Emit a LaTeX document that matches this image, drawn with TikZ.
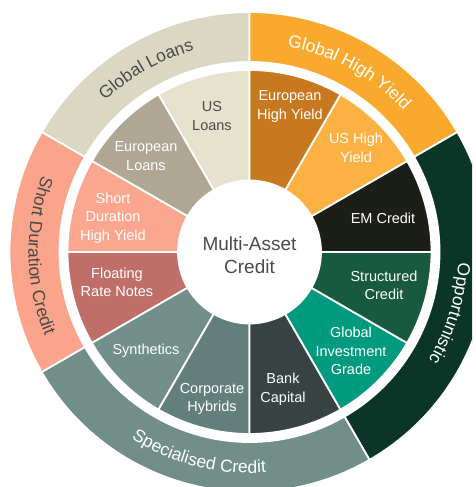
\documentclass[tikz,border=0pt]{standalone}
\usepackage{fontspec}
\setmainfont{Liberation Sans}
\usetikzlibrary{decorations.text}

\definecolor{usloans}{HTML}{E6E2CD}
\definecolor{euloans}{HTML}{AFA794}
\definecolor{sdhy}{HTML}{FBA68E}
\definecolor{frn}{HTML}{BF6F67}
\definecolor{synth}{HTML}{728F89}
\definecolor{corphyb}{HTML}{637F7C}
\definecolor{bankcap}{HTML}{384443}
\definecolor{gig}{HTML}{009A7F}
\definecolor{struct}{HTML}{175A40}
\definecolor{emcredit}{HTML}{1C1F18}
\definecolor{ushy}{HTML}{FCB143}
\definecolor{euhy}{HTML}{C8791F}
\definecolor{globloans}{HTML}{DAD8C2}
\definecolor{globhy}{HTML}{F9A92E}
\definecolor{opport}{HTML}{0B3526}
\definecolor{special}{HTML}{718F88}
\definecolor{sdcredit}{HTML}{FBA48C}
\definecolor{textgrey}{HTML}{4A4A4A}

\tikzstyle{seglabel} = [text=white, align=center, font=\fontsize{14.5}{18.5}\selectfont]
\tikzstyle{darklabel} = [seglabel, text=textgrey]
\tikzstyle{centrelabel} = [text=textgrey, align=center, font=\fontsize{19}{23.5}\selectfont]
\tikzstyle{sep} = [draw=white, line width=1.8pt]

% inner segment: start angle, end angle, colour
\newcommand{\innerseg}[3]{\filldraw[sep, fill=#3] (#1:71.5pt) arc[start angle=#1, end angle=#2, radius=71.5pt] -- (#2:182pt) arc[start angle=#2, end angle=#1, radius=182pt] -- cycle;}
% outer ring segment
\newcommand{\outerseg}[3]{\filldraw[sep, fill=#3] (#1:190pt) arc[start angle=#1, end angle=#2, radius=190pt] -- (#2:240pt) arc[start angle=#2, end angle=#1, radius=240pt] -- cycle;}

\begin{document}
\begin{tikzpicture}

\useasboundingbox (-249.5pt,-235pt) rectangle (226.5pt,252pt);

\begin{scope}
\clip (-249.5pt,-235pt) rectangle (222.5pt,252pt);
\outerseg{90}{150}{globloans}
\outerseg{30}{90}{globhy}
\outerseg{-60}{30}{opport}
\outerseg{-150}{-60}{special}
\outerseg{150}{210}{sdcredit}
\end{scope}

\innerseg{90}{120}{usloans}
\innerseg{120}{150}{euloans}
\innerseg{150}{180}{sdhy}
\innerseg{180}{210}{frn}
\innerseg{210}{240}{synth}
\innerseg{240}{270}{corphyb}
\innerseg{270}{300}{bankcap}
\innerseg{300}{330}{gig}
\innerseg{330}{360}{struct}
\innerseg{0}{30}{emcredit}
\innerseg{30}{60}{ushy}
\innerseg{60}{90}{euhy}

\node (mac) [centrelabel] at (0pt,-3pt) {Multi-Asset\\Credit};

\node (usloansl) [darklabel] at (-37.5pt,136pt) {US\\Loans};
\node (euloansl) [seglabel] at (-103.5pt,96pt) {European\\Loans};
\node (sdhyl) [seglabel] at (-136.5pt,34pt) {Short\\Duration\\High Yield};
\node (frnl) [seglabel] at (-132.5pt,-30.5pt) {Floating\\Rate Notes};
\node (synthl) [seglabel] at (-103.5pt,-99pt) {Synthetics};
\node (corphybl) [seglabel] at (-37.5pt,-147pt) {Corporate\\Hybrids};
\node (bankcapl) [seglabel] at (33.5pt,-137pt) {Bank\\Capital};
\node (gigl) [seglabel] at (101.5pt,-99pt) {Global\\Investment\\Grade};
\node (structl) [seglabel] at (134.5pt,-33.5pt) {Structured\\Credit};
\node (emcreditl) [seglabel] at (133.5pt,34pt) {EM Credit};
\node (ushyl) [seglabel] at (106.5pt,104pt) {US High\\Yield};
\node (euhyl) [seglabel] at (40.5pt,145.5pt) {European\\High Yield};

% ring labels
\path[decorate, decoration={text along path, text align=center,
  text={|\fontsize{17.5}{17.5}\selectfont\color{textgrey}|Global Loans}}]
  (150:209pt) arc[start angle=150, end angle=89, radius=209pt];
\path[decorate, decoration={text along path, text align=center,
  text={|\fontsize{17.5}{17.5}\selectfont\color{white}|Global High Yield}}]
  (92:209pt) arc[start angle=92, end angle=30, radius=209pt];
\path[decorate, decoration={text along path, text align=center,
  text={|\fontsize{17.5}{17.5}\selectfont\color{white}|Opportunistic}}]
  (25:209pt) arc[start angle=25, end angle=-59, radius=209pt];
\path[decorate, decoration={text along path, text align=center,
  text={|\fontsize{17.5}{17.5}\selectfont\color{white}|Specialised Credit}}]
  (212:221pt) arc[start angle=212, end angle=300, radius=221pt];
\path[decorate, decoration={text along path, text align=center,
  text={|\fontsize{17.5}{17.5}\selectfont\color{textgrey}|Short Duration Credit}}]
  (150:221pt) arc[start angle=150, end angle=212, radius=221pt];

\end{tikzpicture}
\end{document}
